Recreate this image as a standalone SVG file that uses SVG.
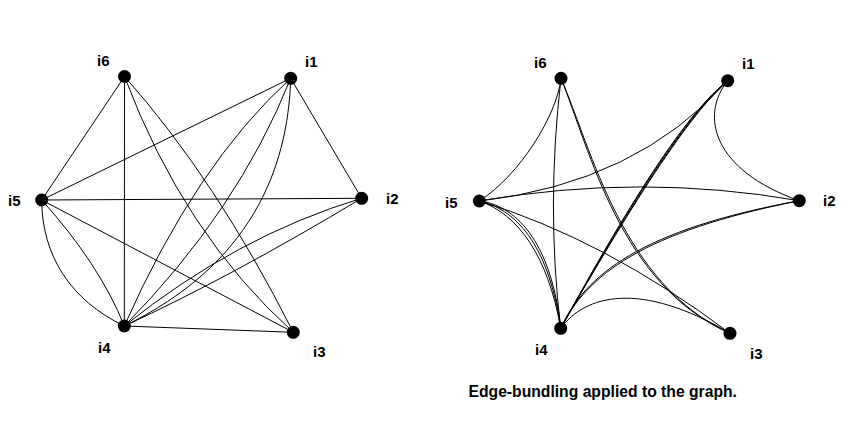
<svg xmlns="http://www.w3.org/2000/svg" width="858" height="422" viewBox="0 0 858 422">
<style>
.e{fill:none;stroke:#000;stroke-width:1}
.n{fill:#000}
.t{font-family:"Liberation Sans",Arial,sans-serif;font-weight:bold;font-size:15px;fill:#000}
.c{font-family:"Liberation Sans",Arial,sans-serif;font-weight:bold;font-size:15.7px;fill:#000}
</style>
<rect width="858" height="422" fill="#fff"/>
<g id="connectors-left">
<path class="e" d="M124.5,76.5 L41.7,200"/>
<path class="e" d="M124.5,76.5 L124.3,326"/>
<path class="e" d="M124.5,76.5 Q183.4,233.4 293.3,332.3"/>
<path class="e" d="M124.5,76.5 Q215.8,179 293.3,332.3"/>
<path class="e" d="M41.7,200 L290.7,78.3"/>
<path class="e" d="M41.7,200 L361.7,198.3"/>
<path class="e" d="M41.7,200 L293.3,332.3"/>
<path class="e" d="M41.7,200 C42,255 70,300 124.3,326"/>
<path class="e" d="M41.7,200 Q99.7,264.4 124.3,326"/>
<path class="e" d="M290.7,78.3 L361.7,198.3"/>
<path class="e" d="M290.7,78.3 Q195.6,164.8 124.3,326"/>
<path class="e" d="M290.7,78.3 Q237.4,211.6 124.3,326"/>
<path class="e" d="M290.7,78.3 C288,170 250,265 124.3,326"/>
<path class="e" d="M361.7,198.3 Q230.7,276.9 124.3,326"/>
<path class="e" d="M361.7,198.3 Q236.7,235.8 124.3,326"/>
<path class="e" d="M124.3,326 L293.3,332.3"/>
</g>
<g id="connectors-right">
<path class="e" d="M561,78.3 C557,115 520,175 479.3,201"/>
<path class="e" d="M561,78.3 Q546,206.7 560.7,328.3"/>
<path class="e" d="M561,78.3 C590,150 620,285 730,333.3"/>
<path class="e" d="M561,78.3 C592,150 622,284 730,333.3"/>
<path class="e" d="M479.3,201 Q637,183 727.7,80.7"/>
<path class="e" d="M479.3,201 Q641,173 799.3,200.7"/>
<path class="e" d="M479.3,201 C520,206 552,248 560.7,328.3"/>
<path class="e" d="M479.3,201 C520,210 550,252 560.7,328.3"/>
<path class="e" d="M479.3,201 C518,214 548,256 560.7,328.3"/>
<path class="e" d="M479.3,201 Q604.5,239 730,333.3"/>
<path class="e" d="M727.7,80.7 C700,115 712,170 799.3,200.7"/>
<path class="e" d="M560.7,328.3 C604.9,249 677.7,120.7 727.7,80.7"/>
<path class="e" d="M560.7,328.3 C605.9,249 678.7,121.7 727.7,80.7"/>
<path class="e" d="M560.7,328.3 C606.4,249 679.7,122.7 727.7,80.7"/>
<path class="e" d="M560.7,328.3 C603.9,250 676.7,119.7 727.7,80.7"/>
<path class="e" d="M560.7,328.3 C585,275 640,230 799.3,200.7"/>
<path class="e" d="M560.7,328.3 C587,275 642,232 799.3,200.7"/>
<path class="e" d="M560.7,328.3 C585,295 640,280 730,333.3"/>
</g>
<g id="L-i6"><circle class="n" cx="124.5" cy="76.5" r="6.5"/><text class="t" x="97" y="66">i6</text></g>
<g id="L-i1"><circle class="n" cx="290.7" cy="78.3" r="6.5"/><text class="t" x="305" y="67">i1</text></g>
<g id="L-i5"><circle class="n" cx="41.7" cy="200" r="6.5"/><text class="t" x="8" y="206">i5</text></g>
<g id="L-i2"><circle class="n" cx="361.7" cy="198.3" r="6.5"/><text class="t" x="386" y="204">i2</text></g>
<g id="L-i4"><circle class="n" cx="124.3" cy="326" r="6.5"/><text class="t" x="98" y="353">i4</text></g>
<g id="L-i3"><circle class="n" cx="293.3" cy="332.3" r="6.5"/><text class="t" x="313" y="357">i3</text></g>
<g id="R-i6"><circle class="n" cx="561" cy="78.3" r="6.5"/><text class="t" x="534" y="68">i6</text></g>
<g id="R-i1"><circle class="n" cx="727.7" cy="80.7" r="6.5"/><text class="t" x="742" y="69">i1</text></g>
<g id="R-i5"><circle class="n" cx="479.3" cy="201" r="6.5"/><text class="t" x="445" y="208">i5</text></g>
<g id="R-i2"><circle class="n" cx="799.3" cy="200.7" r="6.5"/><text class="t" x="823" y="206">i2</text></g>
<g id="R-i4"><circle class="n" cx="560.7" cy="328.3" r="6.5"/><text class="t" x="535" y="355">i4</text></g>
<g id="R-i3"><circle class="n" cx="730" cy="333.3" r="6.5"/><text class="t" x="750" y="359">i3</text></g>
<text class="c" x="468.5" y="397">Edge-bundling applied to the graph.</text>
</svg>
